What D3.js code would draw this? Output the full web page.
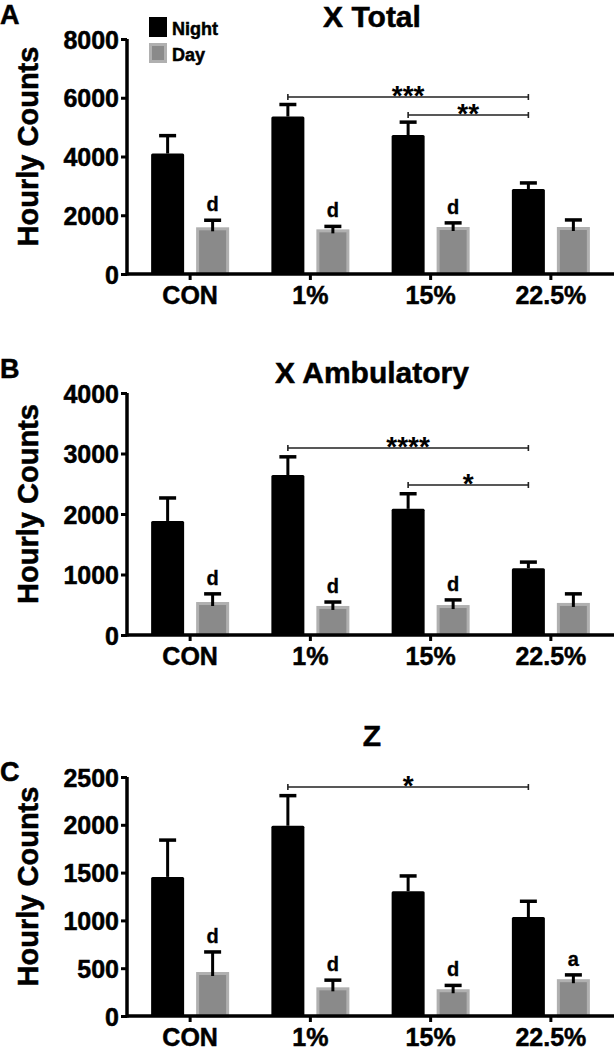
<!DOCTYPE html>
<html><head><meta charset="utf-8">
<script src="https://cdn.jsdelivr.net/npm/d3@7"></script>
<style>body{margin:0;background:#fff}svg{display:block;font-family:"Liberation Sans",Arial,sans-serif;font-weight:bold}</style>
</head><body><svg id="c" width="614" height="1050"></svg>
<script>
const categories = ["CON","1%","15%","22.5%"];
const series = ["Night","Day"];

const totalNight = [4100, 5360, 4730, 2890];
const totalNightErr = [610, 410, 440, 210];
const totalDay = [1590, 1520, 1600, 1600];
const totalDayErr = [240, 100, 140, 240];

const ambNight = [1885, 2645, 2085, 1105];
const ambNightErr = [380, 300, 250, 100];
const ambDay = [545, 480, 495, 530];
const ambDayErr = [135, 65, 85, 150];

const zNight = [1455, 1990, 1305, 1035];
const zNightErr = [385, 315, 160, 165];
const zDay = [460, 300, 280, 385];
const zDayErr = [210, 75, 40, 45];

const totalLetters = ["d","d","d",""];
const ambLetters = ["d","d","d",""];
const zLetters = ["d","d","d","a"];

const totalTicks = [0,2000,4000,6000,8000];
const ambTicks = [0,1000,2000,3000,4000];
const zTicks = [0,500,1000,1500,2000,2500];

const totalSig = [{from:"1%",to:"22.5%",label:"***",y:6025},{from:"15%",to:"22.5%",label:"**",y:5413}];
const ambSig = [{from:"1%",to:"22.5%",label:"****",y:3091},{from:"15%",to:"22.5%",label:"*",y:2479}];
const zSig = [{from:"1%",to:"22.5%",label:"*",y:2395}];

const panels = [
  {letter:"A", title:"X Total", night:totalNight, nightErr:totalNightErr, day:totalDay, dayErr:totalDayErr, letters:totalLetters, ticks:totalTicks, sig:totalSig, top:39, bottom:274, titleY:27, letterY:24, legend:true},
  {letter:"B", title:"X Ambulatory", night:ambNight, nightErr:ambNightErr, day:ambDay, dayErr:ambDayErr, letters:ambLetters, ticks:ambTicks, sig:ambSig, top:393, bottom:635, titleY:383, letterY:378},
  {letter:"C", title:"Z", night:zNight, nightErr:zNightErr, day:zDay, dayErr:zDayErr, letters:zLetters, ticks:zTicks, sig:zSig, top:777, bottom:1016, titleY:746, letterY:781}
];

const svg = d3.select("#c");
const axisX0 = 127, axisX1 = 614;
const x = d3.scaleBand().domain(categories).range([130, 611]);
const xs = d3.scaleBand().domain(series).range([-39, 39]).paddingInner(12/45);
const cx = c => x(c) + x.bandwidth()/2;
const heavy = sel => sel.attr("stroke","#000").attr("stroke-width",0.5).attr("paint-order","stroke");

panels.forEach(p => {
  const g = svg.append("g");
  const ymax = p.ticks[p.ticks.length-1];
  const y = d3.scaleLinear().domain([0, ymax]).range([p.bottom, p.top]);

  heavy(g.append("text").attr("x", 0).attr("y", p.letterY).attr("font-size", 27).text(p.letter));
  heavy(g.append("text").attr("x", 372).attr("y", p.titleY).attr("text-anchor","middle").attr("font-size", 30).text(p.title));

  heavy(g.append("text").attr("transform", `translate(38,${(p.top+p.bottom)/2 - 10}) rotate(-90)`)
    .attr("text-anchor","middle").attr("font-size", 29).text("Hourly Counts"));

  const rows = categories.map((c,i) => ({c, i, night:p.night[i], nightErr:p.nightErr[i], day:p.day[i], dayErr:p.dayErr[i], letter:p.letters[i]}));
  const bw = xs.bandwidth();

  rows.forEach(r => {
    const xc = cx(r.c) + xs("Night") + bw/2;
    g.append("line").attr("x1", xc).attr("x2", xc).attr("y1", y(r.night)).attr("y2", y(r.night + r.nightErr)).attr("stroke","#000").attr("stroke-width",3);
    g.append("line").attr("x1", xc-8.5).attr("x2", xc+8.5).attr("y1", y(r.night + r.nightErr)).attr("y2", y(r.night + r.nightErr)).attr("stroke","#000").attr("stroke-width",3.5);
    const xd = cx(r.c) + xs("Day") + bw/2;
    g.append("line").attr("x1", xd-8.5).attr("x2", xd+8.5).attr("y1", y(r.day + r.dayErr)).attr("y2", y(r.day + r.dayErr)).attr("stroke","#000").attr("stroke-width",3.5);
  });

  g.selectAll(".night").data(rows).enter().append("rect")
    .attr("x", d => cx(d.c) + xs("Night")).attr("width", bw)
    .attr("y", d => y(d.night)).attr("height", d => p.bottom - y(d.night))
    .attr("fill","#000").attr("rx",1.5);
  g.selectAll(".day").data(rows).enter().append("rect")
    .attr("x", d => cx(d.c) + xs("Day") + 1.5).attr("width", bw - 3)
    .attr("y", d => y(d.day) + 1.5).attr("height", d => p.bottom - y(d.day) - 1.5)
    .attr("fill","#8a8a8a").attr("stroke","#b0b0b0").attr("stroke-width",3);
  rows.forEach(r => {
    const xd = cx(r.c) + xs("Day") + bw/2;
    g.append("line").attr("x1", xd).attr("x2", xd).attr("y1", y(r.day)+4).attr("y2", y(r.day + r.dayErr)).attr("stroke","#000").attr("stroke-width",3);
  });

  g.selectAll(".lt").data(rows.filter(r => r.letter)).enter().append("text")
    .attr("x", d => cx(d.c) + xs("Day") + bw/2).attr("y", d => y(d.day + d.dayErr) - 9)
    .attr("text-anchor","middle").attr("font-size",20).text(d => d.letter)
    .attr("stroke","#000").attr("stroke-width",0.3);

  const yAxis = d3.axisLeft(y).tickValues(p.ticks).tickSize(6).tickPadding(2).tickFormat(d3.format("d"));
  const ya = g.append("g").attr("transform", `translate(${axisX0},0)`).call(yAxis);
  ya.select(".domain").attr("stroke-width",3.5).attr("d", `M0,${p.top}V${p.bottom+1.5}`);
  ya.selectAll(".tick line").attr("stroke-width",3);
  heavy(ya.selectAll(".tick text").attr("font-size",25).attr("font-weight","bold").attr("font-family","Liberation Sans, Arial, sans-serif").attr("fill","#000").attr("dy","0.36em"));

  const xAxis = d3.axisBottom(x).tickSize(6).tickPadding(6);
  const xa = g.append("g").attr("transform", `translate(0,${p.bottom})`).call(xAxis);
  xa.select(".domain").attr("stroke-width",3.5).attr("d", `M${axisX0},0H${axisX1}`);
  xa.selectAll(".tick line").attr("stroke-width",3);
  heavy(xa.selectAll(".tick text").attr("font-size",25).attr("font-weight","bold").attr("font-family","Liberation Sans, Arial, sans-serif").attr("fill","#000"));

  p.sig.forEach(s => {
    const x1 = cx(s.from) + xs("Night") + bw/2, x2 = cx(s.to) + xs("Night") + bw/2, yy = y(s.y);
    g.append("path").attr("d", `M${x1},${yy-3}V${yy+3}M${x1},${yy}H${x2}M${x2},${yy-3}V${yy+3}`).attr("stroke","#222").attr("stroke-width",1.6).attr("fill","none");
    g.append("text").attr("x",(x1+x2)/2).attr("y", yy + 8).attr("text-anchor","middle").attr("font-size",28).text(s.label);
  });

  if (p.legend) {
    const lg = g.append("g");
    series.forEach((s,i) => {
      const yy = 17 + i*26;
      if (s === "Night") lg.append("rect").attr("x",149).attr("y",yy).attr("width",18).attr("height",20).attr("fill","#000");
      else lg.append("rect").attr("x",150.5).attr("y",yy+1.5).attr("width",15).attr("height",17).attr("fill","#8a8a8a").attr("stroke","#b0b0b0").attr("stroke-width",3);
      heavy(lg.append("text").attr("x",172).attr("y",yy+18).attr("font-size",18).text(s));
    });
  }
});
</script></body></html>
